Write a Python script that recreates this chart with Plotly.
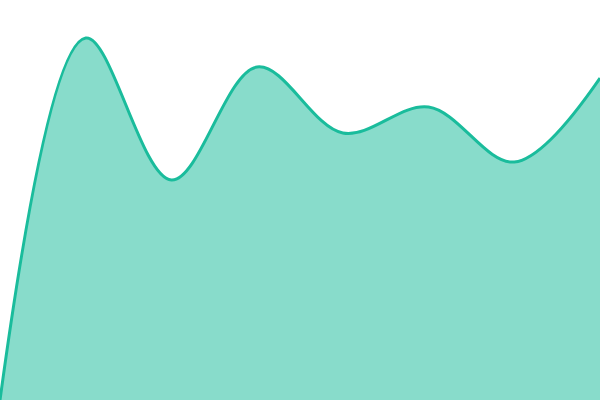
import plotly.graph_objects as go

steps = [0, 1, 2, 3, 4, 5, 6, 7]
values = [0, 362, 220, 333, 267, 293, 238, 322]

fig = go.Figure()
fig.add_trace(go.Scatter(
    x=steps,
    y=values,
    mode="lines",
    line=dict(color="#1abc9c", width=3, shape="spline", smoothing=1),
    fill="tozeroy",
    fillcolor="rgba(26,188,156,0.52)",
    hoverinfo="skip",
))

fig.update_layout(
    width=600, height=400,
    margin=dict(l=0, r=0, t=0, b=0),
    paper_bgcolor="white", plot_bgcolor="white",
    showlegend=False,
    xaxis=dict(visible=False, range=[0, 7]),
    yaxis=dict(visible=False, range=[0, 400]),
)

# body has a default 8px margin, drop it so the plot fills the window
fig.write_html(
    "out.html",
    config={"displayModeBar": False},
    post_script="document.body.style.margin='0';",
)
